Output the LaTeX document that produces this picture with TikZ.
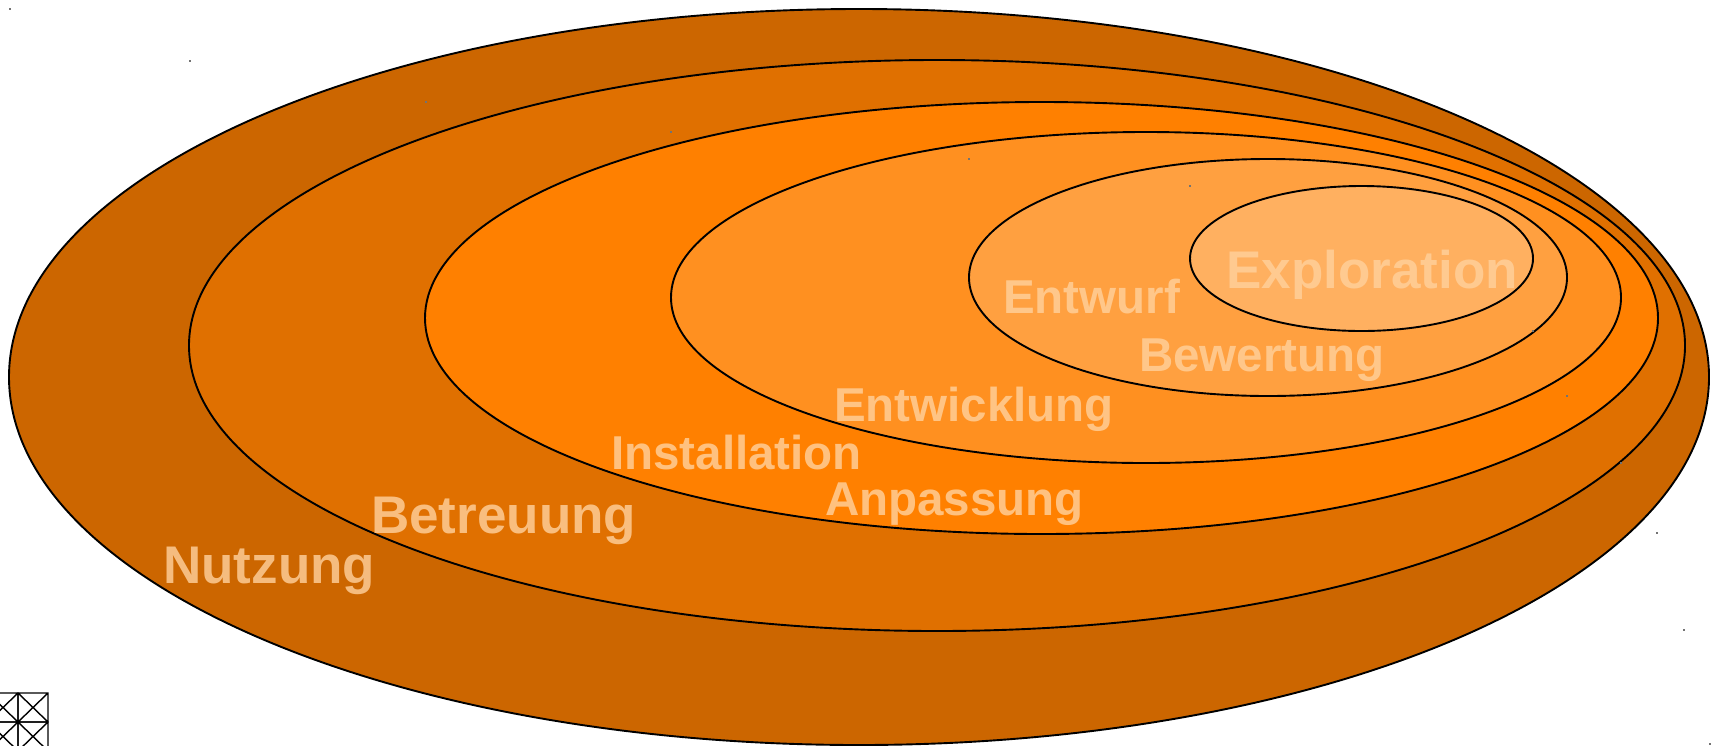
\documentclass[tikz,border=0pt]{standalone}
\usepackage{fontspec}
\setmainfont{Liberation Sans}
\begin{document}
\begin{tikzpicture}[x=1pt,y=-1pt,
  ring/.style={draw=black,line width=1.9pt},
  phase/.style={anchor=base west,inner sep=0pt,text=labelcol,text opacity=0.82,font=\bfseries\fontsize{47.5}{50}\selectfont},
  bigphase/.style={phase,font=\bfseries\fontsize{53}{56}\selectfont},
  handle/.style={fill=black!55,minimum size=2pt,inner sep=0pt}]
\definecolor{ringA}{RGB}{204,102,0}
\definecolor{ringB}{RGB}{224,112,0}
\definecolor{ringC}{RGB}{255,128,0}
\definecolor{ringD}{RGB}{255,144,32}
\definecolor{ringE}{RGB}{255,160,64}
\definecolor{ringF}{RGB}{255,176,96}
\definecolor{labelcol}{RGB}{255,208,155}
\useasboundingbox (0,0) rectangle (1720,745);
\begin{scope}
\clip (0,0) rectangle (1720,745);
% nested phase ellipses, outermost first
\filldraw[ring,fill=ringA] (859,377) ellipse [x radius=850pt,y radius=368pt];
\filldraw[ring,fill=ringB] (937,345.5) ellipse [x radius=748pt,y radius=285.5pt];
\filldraw[ring,fill=ringC] (1041.5,318) ellipse [x radius=616.5pt,y radius=216pt];
\filldraw[ring,fill=ringD] (1146,297.5) ellipse [x radius=475pt,y radius=165.5pt];
\filldraw[ring,fill=ringE] (1268,277.5) ellipse [x radius=299pt,y radius=118.5pt];
\filldraw[ring,fill=ringF] (1361.5,258.5) ellipse [x radius=171.5pt,y radius=72.5pt];
% selection handles at the bounding-box corners
\foreach \p [count=\i] in {(9.5,9),(190,60.5),(425.5,102),(671,132),(969,159),(1190,186)}
  \node[handle] (tl\i) at \p {};
\foreach \p [count=\i] in {(1710,744),(1684,630),(1657,533),(1621,463),(1567,396),(1533,331)}
  \node[handle] (br\i) at \p {};
% small grid marker
\foreach \cx in {-12,18} \foreach \cy in {693,722}
  \draw[line width=1.4pt] (\cx,\cy) rectangle ++(30,29) (\cx,\cy) -- ++(30,29) (\cx+30,\cy) -- ++(-30,29);
\end{scope}
% phase labels
\node[bigphase] (exploration) at (1226,288.5) {Exploration};
\node[phase] (entwurf) at (1003,313) {Entwurf};
\node[phase] (bewertung) at (1139,371.5) {Bewertung};
\node[phase] (entwicklung) at (834,421) {Entwicklung};
\node[phase] (installation) at (611,469) {Installation};
\node[phase] (anpassung) at (825,515) {Anpassung};
\node[bigphase] (betreuung) at (371,533) {Betreuung};
\node[bigphase] (nutzung) at (163,583) {Nutzung};
\end{tikzpicture}
\end{document}
